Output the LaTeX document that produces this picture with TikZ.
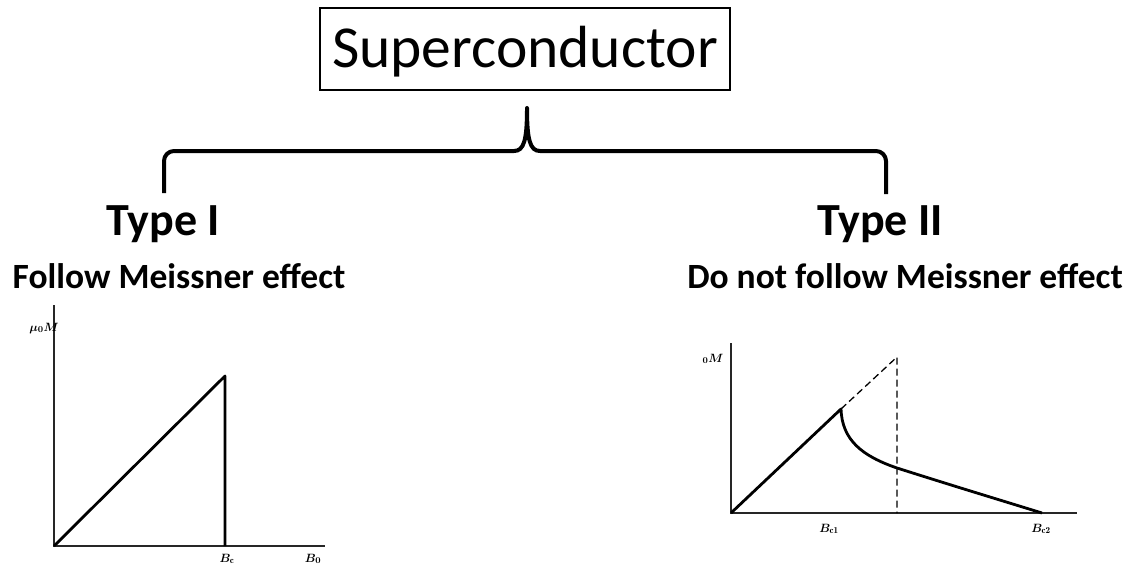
\documentclass[tikz,border=0pt]{standalone}
\usepackage{fontspec}
\newfontfamily\calfont{Carlito}
\begin{document}
\begin{tikzpicture}[x=1pt,y=-1pt,
  titlebox/.style={draw,line width=1.4pt,minimum width=410pt,minimum height=82pt,inner sep=0pt},
  titletext/.style={inner sep=0pt,font=\calfont\fontsize{59.5}{60}\selectfont},
  typelabel/.style={inner sep=0pt,font=\calfont\bfseries\fontsize{46}{48}\selectfont},
  sublabel/.style={inner sep=0pt,font=\calfont\bfseries\fontsize{35.5}{37}\selectfont},
  axis/.style={line width=1.3pt,draw=black!85},
  curve/.style={line width=2.8pt,line join=round},
  dashline/.style={line width=1.3pt,dashed,dash pattern=on 7pt off 4pt},
  axlabel/.style={inner sep=0pt,font=\fontsize{13}{14}\selectfont\boldmath},
  bracepath/.style={line width=4pt,line join=round}]
\useasboundingbox (0,0) rectangle (1123,567);

% title
\node[titlebox] (sc) at (525,49) {};
\node[titletext,anchor=base] (sct) at (525,68) {Superconductor};

% brace
\coordinate (bl) at (164,193);
\coordinate (br) at (886,194);
\coordinate (peak) at (527,108);
\draw[bracepath] (bl) [rounded corners=10pt] -- (164,151) [sharp corners] -- (514,151)
  .. controls (524,151) and (527,140) .. (peak)
  .. controls (527,140) and (530,151) .. (540,151) [rounded corners=10pt] -- (886,151) [sharp corners] -- (br);

% type labels
\node[typelabel,anchor=base] (t1) at (163,235) {Type I};
\node[sublabel,anchor=base] (s1) at (179,288) {Follow Meissner effect};
\node[typelabel,anchor=base] (t2) at (880,235) {Type II};
\node[sublabel,anchor=base] (s2) at (905,288) {Do not follow Meissner effect};

% graph type I
\coordinate (o1) at (54,546);
\coordinate (y1) at (54,305);
\coordinate (x1) at (325,546);
\coordinate (p1) at (225,376);
\coordinate (f1) at (225,546);
\draw[axis] (y1) -- (o1) -- (x1);
\draw[curve] (o1) -- (p1) -- (f1);
\node[axlabel,anchor=base] (m1) at (44,331) {$\mu_0M$};
\node[axlabel,anchor=base] (bc) at (227,562) {$B_{\mathrm{c}}$};
\node[axlabel,anchor=base] (b0) at (313,562) {$B_0$};

% graph type II
\coordinate (o2) at (731,513);
\coordinate (y2) at (731,343);
\coordinate (x2) at (1077,513);
\coordinate (p2) at (841,409);
\coordinate (d2) at (897,357);
\coordinate (e2) at (897,513);
\coordinate (q2) at (1042,513);
\draw[axis] (y2) -- (o2) -- (x2);
\draw[dashline] (p2) -- (d2) -- (e2);
\draw[curve] (o2) -- (p2) .. controls (842,440) and (862,456) .. (897,468)
  .. controls (960,488) and (1000,500) .. (q2);
\node[axlabel,anchor=base] (m2) at (713,362) {$_0M$};
\node[axlabel,anchor=base] (bc1) at (829,532) {$B_{\mathrm{c1}}$};
\node[axlabel,anchor=base] (bc2) at (1041,532) {$B_{\mathrm{c2}}$};
\end{tikzpicture}
\end{document}
